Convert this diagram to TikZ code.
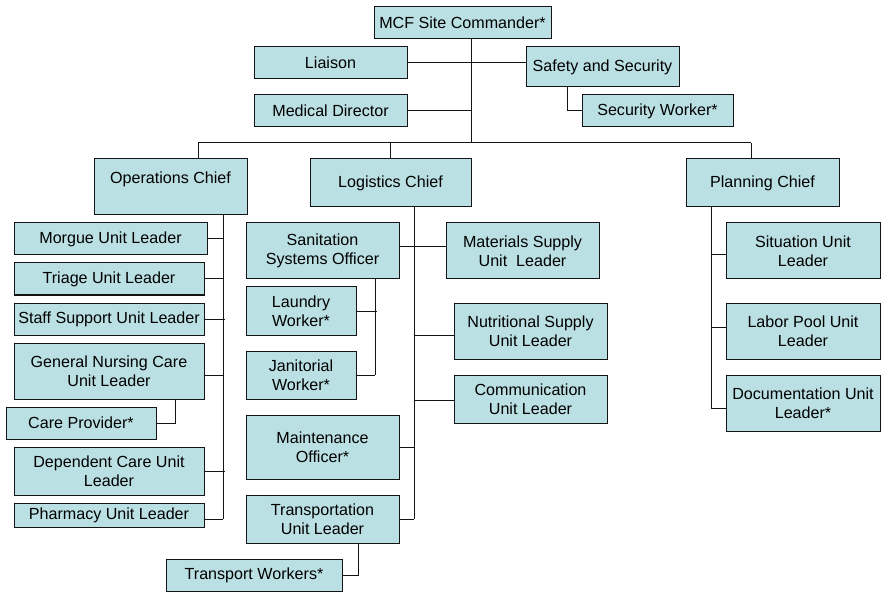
\documentclass[tikz,border=0pt]{standalone}
\usepackage{fontspec}
\setmainfont{Liberation Sans}
\usetikzlibrary{calc}
\definecolor{boxfill}{RGB}{187,224,227}
\definecolor{linec}{RGB}{20,20,20}
\begin{document}
\begin{tikzpicture}[x=1pt,y=-1pt,
  box/.style={draw=linec, fill=boxfill, line width=1pt, inner sep=0pt, align=center,
    font=\fontsize{16.1}{19}\selectfont},
  conn/.style={draw=linec, line width=1pt}]
\newcommand\bx[6]{\node[box, minimum width={#4-#2}, minimum height={#5-#3}] (#1) at ({(#2+#4)/2},{(#3+#5)/2}) {#6};}
\useasboundingbox (0,0) rectangle (885,593);
% top level
\bx{cmd}{374}{7}{551}{39}{MCF Site Commander*}
\bx{liai}{254}{47}{407}{79}{Liaison}
\bx{med}{254}{95}{407}{127}{Medical Director}
\bx{safe}{526}{47}{679}{87}{Safety and Security}
\bx{secw}{582}{95}{733}{127}{Security Worker*}
% chiefs
\bx{ops}{94}{159}{247}{215}{Operations Chief\\\mbox{}}
\bx{log}{310}{159}{471}{207}{Logistics Chief}
\bx{plan}{686}{159}{839}{207}{Planning Chief}
% operations
\bx{morg}{14}{223}{207}{255}{Morgue Unit Leader}
\bx{tri}{14}{263}{204}{295}{Triage Unit Leader}
\bx{staff}{14}{303}{204}{335}{Staff Support Unit Leader}
\bx{gn}{14}{343}{204}{399}{General Nursing Care\\Unit Leader}
\bx{care}{6}{407}{156}{439}{Care Provider*}
\bx{dep}{14}{447}{204}{495}{Dependent Care Unit\\Leader}
\bx{pharm}{14}{503}{204}{527}{Pharmacy Unit Leader}
% logistics
\bx{san}{246}{223}{399}{279}{Sanitation\\Systems Officer}
\bx{laun}{246}{287}{356}{335}{Laundry\\Worker*}
\bx{jan}{246}{351}{356}{399}{Janitorial\\Worker*}
\bx{maint}{246}{415}{399}{479}{Maintenance\\Officer*}
\bx{tul}{246}{495}{399}{543}{Transportation\\Unit Leader}
\bx{tw}{166}{559}{342}{591}{Transport Workers*}
\bx{mat}{446}{223}{599}{279}{Materials Supply\\Unit~~Leader}
\bx{nut}{454}{303}{607}{359}{Nutritional Supply\\Unit Leader}
\bx{com}{454}{375}{607}{423}{Communication\\Unit Leader}
% planning
\bx{sit}{726}{223}{880}{279}{Situation Unit\\Leader}
\bx{lab}{726}{303}{880}{359}{Labor Pool Unit\\Leader}
\bx{doc}{726}{375}{880}{431}{Documentation Unit\\Leader*}
% junction coordinates
\coordinate (j0) at (471,143);
\coordinate (hL) at (198,143);
\coordinate (hR) at (751,143);
\coordinate (sw) at (567,111);
\coordinate (oB) at (223,519);
\coordinate (cpj) at (175,423);
\coordinate (lB) at (414,519);
\coordinate (sB) at (375,375);
\coordinate (twj) at (358,575);
\coordinate (pB) at (711,408);
% top connectors
\draw[conn] (cmd.south -| j0) -- (j0);
\draw[conn] (hL) -- (hR);
\draw[conn] (hL) -- (hL |- ops.north);
\draw[conn] (log.north) -- (log.north |- hL);
\draw[conn] (hR) -- (hR |- plan.north);
\draw[conn] (liai.east) -- (liai.east -| safe.west);
\draw[conn] (med.east) -- (med.east -| j0);
\draw[conn] (safe.south -| sw) -- (sw) -- (secw.west);
% operations connectors
\draw[conn] (ops.south -| oB) -- (oB);
\draw[conn] (morg.east) -- (morg.east -| oB);
\draw[conn] (tri.east) -- (tri.east -| oB);
\draw[conn] (staff.east) -- ($(staff.east -| oB)+(2,0)$);
\draw[conn] ($(gn.east)+(0,4)$) -- ($(gn.east -| oB)+(0,4)$);
\draw[conn] (gn.south -| cpj) -- (cpj) -- (care.east);
\draw[conn] (dep.east) -- ($(dep.east -| oB)+(2,0)$);
\draw[conn] (oB) -- (oB -| pharm.east);
% logistics connectors
\draw[conn] (log.south -| lB) -- (lB);
\draw[conn] ($(san.east)+(0,-4)$) -- ($(san.east -| mat.west)+(0,-4)$);
\draw[conn] ($(nut.west)+(0,4)$) -- ($(nut.west -| lB)+(0,4)$);
\draw[conn] ($(com.west)+(0,1)$) -- ($(com.west -| lB)+(0,1)$);
\draw[conn] (maint.east) -- (maint.east -| lB);
\draw[conn] (tul.east) -- (tul.east -| lB);
\draw[conn] (san.south -| sB) -- (sB);
\draw[conn] (laun.east) -- ($(laun.east -| sB)+(2,0)$);
\draw[conn] (jan.east) -- (sB);
\draw[conn] (tul.south -| twj) -- (twj) -- (tw.east);
% planning connectors
\draw[conn] (plan.south -| pB) -- (pB);
\draw[conn] ($(sit.west)+(0,4)$) -- ($(sit.west -| pB)+(0,4)$);
\draw[conn] ($(lab.west)+(0,-4)$) -- ($(lab.west -| pB)+(0,-4)$);
\draw[conn] (pB) -- (pB -| doc.west);
\end{tikzpicture}
\end{document}
